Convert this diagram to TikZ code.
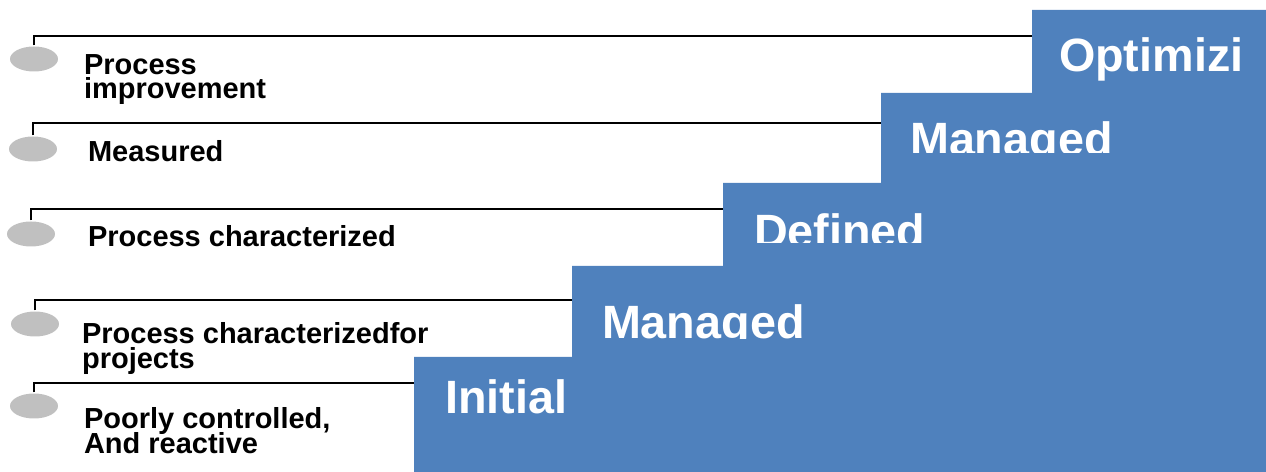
\documentclass[tikz,border=0pt]{standalone}
\usepackage{fontspec}
\setmainfont{Liberation Sans}
\usetikzlibrary{shapes.geometric}
\definecolor{stairblue}{HTML}{4F81BD}
\definecolor{dotgray}{HTML}{C0C0C0}
\newcommand\tightlines{\setlength{\lineskiplimit}{-20pt}}

\begin{document}
\begin{tikzpicture}[x=0.02cm,y=-0.02cm,line width=1.2pt,
  dot/.style={ellipse,fill=dotgray,minimum width=0.96cm,minimum height=0.5cm,inner sep=0pt},
  note/.style={anchor=base west,inner sep=0pt,align=left,
    font=\fontsize{16.5}{14.2}\selectfont\bfseries\tightlines},
  level/.style={anchor=base west,inner sep=0pt,text=white,font=\fontsize{26.6}{30}\selectfont\bfseries}]

  \useasboundingbox (0,0) rectangle (1266,472);

  % the staircase
  \fill[stairblue] (414,472) -- (414,357) -- (572,357) -- (572,266) -- (723,266)
    -- (723,183) -- (881,183) -- (881,93) -- (1032,93) -- (1032,10) -- (1266,10)
    -- (1266,472) -- cycle;
  \coordinate (c1) at (414,357);
  \coordinate (c2) at (572,266);
  \coordinate (c3) at (723,183);
  \coordinate (c4) at (881,93);
  \coordinate (c5) at (1032,10);

  \node[level] (s1) at (444,413) {Initial};
  \begin{scope}
    \clip (572,266) rectangle (1266,339);
    \node[level] (s2) at (601,338) {Managed};
  \end{scope}
  \begin{scope}
    \clip (723,183) rectangle (1266,243);
    \node[level] (s3) at (753,248) {Defined};
  \end{scope}
  \begin{scope}
    \clip (881,93) rectangle (1266,153);
    \node[level] (s4) at (909,156) {Managed};
  \end{scope}
  \node[level] (s5) at (1058,72) {Optimizi};

  % bullets and labels (base = last line)
  \node[dot] (5) at (34,59) {};
  \node[dot] (4) at (33,149) {};
  \node[dot] (3) at (31,234) {};
  \node[dot] (2) at (35,324) {};
  \node[dot] (1) at (34,406) {};

  \begin{scope}
    \clip (60,40) rectangle (400,104);
    \node[note] (t5) at (83,99) {Process\\improvement};
  \end{scope}
  \node[note] (t4) at (87,162) {Measured};
  \node[note] (t3) at (87,247) {Process characterized};
  \node[note] (t2) at (81,368) {Process characterizedfor\\projects};
  \node[note] (t1) at (83,453) {Poorly controlled,\\And reactive};

  \draw (5.north) |- (c5 |- 0,36);
  \draw (4.north) |- (c4 |- 0,123);
  \draw (3.north) |- (c3 |- 0,209);
  \draw (2.north) |- (c2 |- 0,300);
  \draw (1.north) |- (c1 |- 0,383);

\end{tikzpicture}
\end{document}
